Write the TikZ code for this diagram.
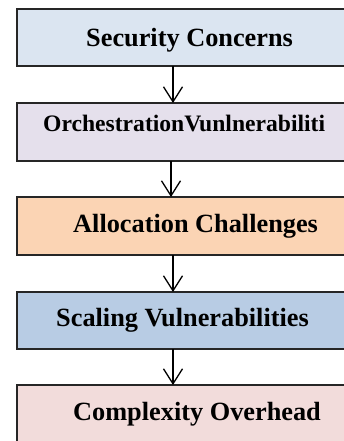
\documentclass[tikz,border=0pt]{standalone}
\usepackage{fontspec}
\setmainfont{Liberation Serif}
\usetikzlibrary{arrows.meta}
\definecolor{c1}{HTML}{DBE5F1}
\definecolor{c2}{HTML}{E5E0EC}
\definecolor{c3}{HTML}{FBD4B4}
\definecolor{c4}{HTML}{B8CCE4}
\definecolor{c5}{HTML}{F2DCDB}
\tikzset{
  boxshape/.style={draw=black!85, line width=1.4pt, rectangle, inner sep=0pt, outer sep=0pt},
  lbl/.style={anchor=base west, inner sep=0pt, font=\fontsize{26.3}{30}\selectfont\bfseries},
  lblsmall/.style={anchor=base west, inner sep=0pt, font=\fontsize{23.6}{28}\selectfont\bfseries},
  conn/.style={line width=1.3pt, -{Straight Barb[length=15pt,width=19pt,line width=1.3pt]}}
}
\begin{document}
\begin{tikzpicture}[x=1pt,y=1pt]
\useasboundingbox (0,0) rectangle (344,-441);
\clip (0,0) rectangle (344,-441);
\node[boxshape, fill=c1, minimum width=340pt, minimum height=57pt, anchor=north west] (b1) at (17,-9) {};
\node[boxshape, fill=c2, minimum width=340pt, minimum height=58pt, anchor=north west] (b2) at (17,-103) {};
\node[boxshape, fill=c3, minimum width=340pt, minimum height=58pt, anchor=north west] (b3) at (17,-197) {};
\node[boxshape, fill=c4, minimum width=340pt, minimum height=57pt, anchor=north west] (b4) at (17,-292) {};
\node[boxshape, fill=c5, minimum width=340pt, minimum height=70pt, anchor=north west] (b5) at (17,-385) {};
\node[lbl] (t1) at (86,-46.7) {Security Concerns};
\node[lblsmall] (t2) at (43,-131.7) {OrchestrationVunlnerabiliti};
\node[lbl] (t3) at (73,-232.7) {Allocation Challenges};
\node[lbl] (t4) at (56,-326.7) {Scaling Vulnerabilities};
\node[lbl] (t5) at (73,-420) {Complexity Overhead};
\coordinate (ax1) at (173,0);
\coordinate (ax2) at (171,0);
\coordinate (ax3) at (173,0);
\coordinate (ax4) at (173,0);
\draw[conn] (b1.south -| ax1) -- (b2.north -| ax1);
\draw[conn] (b2.south -| ax2) -- (b3.north -| ax2);
\draw[conn] (b3.south -| ax3) -- (b4.north -| ax3);
\draw[conn] (b4.south -| ax4) -- (b5.north -| ax4);
\end{tikzpicture}
\end{document}
